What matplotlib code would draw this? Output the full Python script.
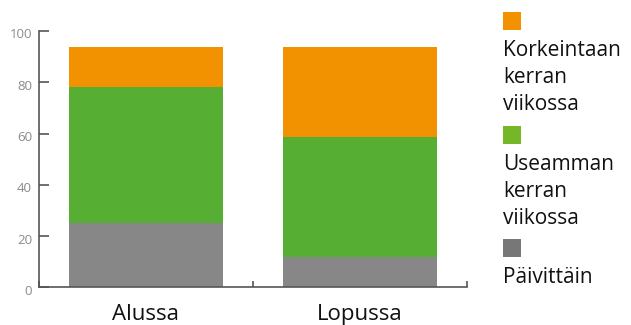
import matplotlib
matplotlib.use("Agg")
import matplotlib.pyplot as plt
import matplotlib.transforms as mtransforms
from matplotlib.patches import Rectangle

plt.rcParams['font.family'] = ['Open Sans', 'DejaVu Sans']

categories = ["Alussa", "Lopussa"]
series_names = ["Päivittäin", "Useamman kerran viikossa", "Korkeintaan kerran viikossa"]
paivittain = [25, 12]
useamman = [53, 46.5]
korkeintaan = [15.8, 35.3]
y_ticks = [0, 20, 40, 60, 80, 100]

bar_colors = ["#878787", "#56AE33", "#F39200"]
legend_colors = ["#777777", "#76B72A", "#F39200"]

W, H = 631, 325
fig = plt.figure(figsize=(W / 100, H / 100), dpi=100)
ax = fig.add_axes([39 / W, (H - 287.3) / H, (467 - 39) / W, (287.3 - 31) / H])

x = list(range(len(categories)))
values = [paivittain, useamman, korkeintaan]
bottom = [0] * len(categories)
for vals, col in zip(values, bar_colors):
    ax.bar(x, vals, width=0.724, bottom=bottom, color=col, linewidth=0)
    bottom = [b + v for b, v in zip(bottom, vals)]

ax.set_xlim(-0.5, len(categories) - 0.5)
ax.set_ylim(0, 100)

spine_col = "#555555"
for s in ["top", "right"]:
    ax.spines[s].set_visible(False)
for s in ["left", "bottom"]:
    ax.spines[s].set_color(spine_col)
    ax.spines[s].set_linewidth(1.2)

ax.set_yticks(y_ticks)
ax.set_yticklabels([str(t) for t in y_ticks])
ax.tick_params(axis="y", direction="in", length=7.5, width=1.2, color=spine_col,
               labelsize=9.5, labelcolor="#8a8a8a", pad=5)
offset = mtransforms.ScaledTranslation(0, -2.5 / 100, fig.dpi_scale_trans)
for lab in ax.get_yticklabels():
    lab.set_transform(lab.get_transform() + offset)

ax.set_xticks([i - 0.5 for i in range(len(categories) + 1)])
ax.set_xticklabels([])
ax.tick_params(axis="x", which="major", direction="in", length=4.3, width=1.2, color=spine_col)
ax.set_xticks(x, minor=True)
ax.set_xticklabels(categories, minor=True)
ax.tick_params(axis="x", which="minor", length=0, labelsize=16, labelcolor="#111111", pad=12)

# legend (manual, to the right)
legend_items = list(zip(series_names, legend_colors))[::-1]
labels_wrapped = {
    "Korkeintaan kerran viikossa": "Korkeintaan\nkerran\nviikossa",
    "Useamman kerran viikossa": "Useamman\nkerran\nviikossa",
    "Päivittäin": "Päivittäin",
}
sq_tops = [12, 126, 239]
for (name, col), top in zip(legend_items, sq_tops):
    fig.patches.append(Rectangle((503 / W, (H - top - 17.5) / H), 17.5 / W, 17.5 / H,
                                 transform=fig.transFigure, color=col, linewidth=0))
    fig.text(503 / W, (H - top - 28) / H, labels_wrapped[name], ha="left", va="top",
             fontsize=15, color="#111111", linespacing=1.37)

fig.savefig("out.png", dpi=100)
